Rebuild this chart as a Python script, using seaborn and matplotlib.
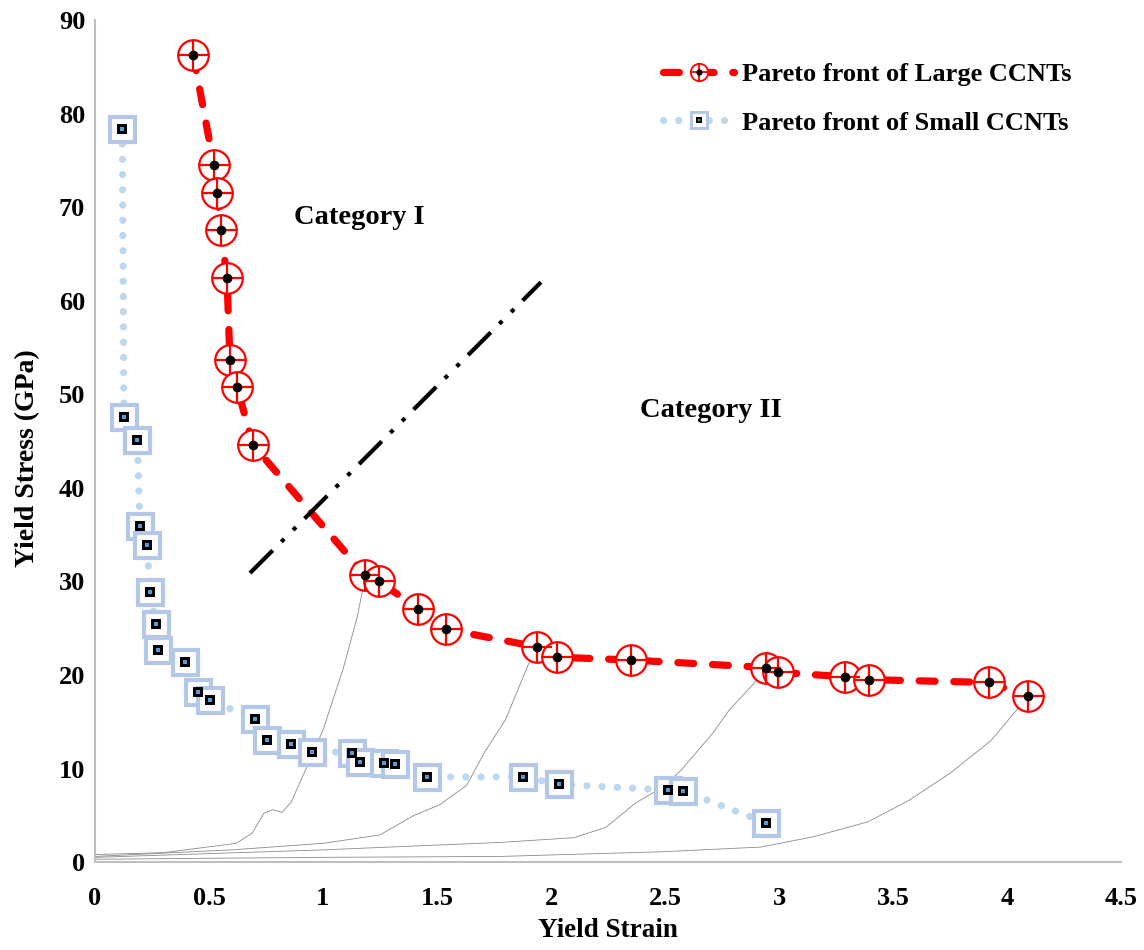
import numpy as np
import pandas as pd
import matplotlib
matplotlib.use('Agg')
import matplotlib.pyplot as plt
import seaborn as sns
from matplotlib.legend_handler import HandlerTuple

# Pareto front, large CCNTs
large_strain = [0.431, 0.522, 0.535, 0.553, 0.579, 0.592, 0.623, 0.693, 1.184, 1.246, 1.417,
                1.539, 1.939, 2.026, 2.351, 2.943, 2.996, 3.289, 3.395, 3.921, 4.092]
large_stress = [86.3, 74.5, 71.5, 67.6, 62.4, 53.7, 50.8, 44.6, 30.7, 30.0, 27.1,
                24.9, 23.0, 21.9, 21.6, 20.8, 20.3, 19.8, 19.5, 19.2, 17.7]

# Pareto front, small CCNTs
small_strain = [0.12, 0.127, 0.186, 0.197, 0.227, 0.243, 0.266, 0.278, 0.395, 0.452, 0.504,
                0.702, 0.754, 0.86, 0.952, 1.127, 1.162, 1.268, 1.316, 1.456, 1.877, 2.035,
                2.513, 2.579, 2.943]
small_stress = [78.4, 47.6, 45.1, 35.9, 33.9, 28.9, 25.5, 22.7, 21.4, 18.2, 17.3,
                15.3, 13.0, 12.6, 11.8, 11.7, 10.7, 10.6, 10.5, 9.1, 9.1, 8.3,
                7.7, 7.6, 4.2]

# stress-strain curves (thin grey)
curve_a_x = [0.0, 0.3, 0.62, 0.69, 0.74, 0.78, 0.82, 0.86, 0.93, 1.0, 1.09, 1.15, 1.18]
curve_a_y = [0.8, 1.0, 2.0, 3.1, 5.2, 5.6, 5.3, 6.4, 10.2, 14.1, 20.8, 26.2, 29.8]
curve_b_x = [0.0, 0.6, 1.0, 1.25, 1.40, 1.51, 1.63, 1.71, 1.80, 1.90, 1.94]
curve_b_y = [0.6, 1.3, 2.0, 2.9, 5.0, 6.1, 8.2, 11.8, 15.2, 21.1, 23.0]
curve_c_x = [0.0, 1.0, 1.78, 2.10, 2.24, 2.37, 2.49, 2.57, 2.71, 2.78, 2.89, 2.94]
curve_c_y = [0.5, 1.3, 2.1, 2.6, 3.7, 6.3, 8.0, 9.8, 13.8, 16.2, 19.1, 20.8]
curve_d_x = [0.0, 1.0, 1.78, 2.49, 2.92, 3.15, 3.39, 3.57, 3.75, 3.93, 4.04, 4.09]
curve_d_y = [0.3, 0.5, 0.6, 1.1, 1.6, 2.7, 4.3, 6.6, 9.5, 13.0, 16.2, 17.7]

# category divider
divider_x = [0.68, 1.956]
divider_y = [30.9, 62.0]

x_ticks = [0, 0.5, 1, 1.5, 2, 2.5, 3, 3.5, 4, 4.5]
x_ticklabels = ['0', '0.5', '1', '1.5', '2', '2.5', '3', '3.5', '4', '4.5']
y_ticks = [0, 10, 20, 30, 40, 50, 60, 70, 80, 90]

sns.set_style('white')
plt.rcParams['font.family'] = ['Liberation Serif', 'DejaVu Serif']
plt.rcParams['font.weight'] = 'bold'
plt.rcParams['text.color'] = 'black'
plt.rcParams['axes.labelcolor'] = 'black'
plt.rcParams['xtick.color'] = 'black'
plt.rcParams['ytick.color'] = 'black'

fig = plt.figure(figsize=(11.44, 9.5), dpi=100)
ax = fig.add_axes([0.083, 0.0926, 0.897, 0.886])

df_large = pd.DataFrame({'strain': large_strain, 'stress': large_stress})
df_small = pd.DataFrame({'strain': small_strain, 'stress': small_stress})

for cx, cy in [(curve_a_x, curve_a_y), (curve_b_x, curve_b_y),
               (curve_c_x, curve_c_y), (curve_d_x, curve_d_y)]:
    sns.lineplot(x=cx, y=cy, ax=ax, color='#8a8a8a', lw=0.6, sort=False,
                 estimator=None, zorder=1)

red_ls = (0, (2.2, 2.6))
blue_ls = (0, (0.01, 2.1))

# small CCNT front
sns.lineplot(data=df_small, x='strain', y='stress', ax=ax, sort=False, estimator=None,
             color='#bdd7ee', lw=5.2, linestyle=blue_ls,
             dash_capstyle='round', zorder=2)
ax.plot(small_strain, small_stress, ls='none', marker='s', ms=18, mfc='white',
        mec='#b4c7e7', mew=3, zorder=3)
ax.plot(small_strain, small_stress, ls='none', marker='s', ms=7.5, mfc='black',
        mec='black', mew=0, zorder=3)
ax.plot(small_strain, small_stress, ls='none', marker='s', ms=2.8, mfc='#5b9bd5',
        mec='#5b9bd5', mew=0, zorder=3)

# large CCNT front
sns.lineplot(data=df_large, x='strain', y='stress', ax=ax, sort=False, estimator=None,
             color='red', lw=5.2, linestyle=red_ls,
             dash_capstyle='round', zorder=4)
ax.plot(large_strain, large_stress, ls='none', marker='o', ms=22, mfc='white',
        mec='red', mew=1.6, zorder=5)
ax.plot(large_strain, large_stress, ls='none', marker='+', ms=22, mec='red',
        mew=1.6, zorder=5)
ax.plot(large_strain, large_stress, ls='none', marker='o', ms=7, mfc='black',
        mec='black', mew=0, zorder=5)

# divider
ax.plot(divider_x, divider_y, color='black', lw=3,
        linestyle=(0, (7.7, 2.9, 1.0, 3.0, 1.0, 2.9)), zorder=6)

ax.text(1.16, 68.9, 'Category I', fontsize=20.5, fontweight='bold', ha='center', va='center')
ax.text(2.70, 48.3, 'Category II', fontsize=20.5, fontweight='bold', ha='center', va='center')

ax.set_xlim(0, 4.5)
ax.set_ylim(0, 90)
ax.set_xticks(x_ticks)
ax.set_xticklabels(x_ticklabels)
ax.set_yticks(y_ticks)
ax.tick_params(axis='both', labelsize=19, length=0)
ax.tick_params(axis='x', pad=18)
ax.tick_params(axis='y', pad=7)
for lab in ax.get_xticklabels() + ax.get_yticklabels():
    lab.set_fontweight('bold')
ax.set_xlabel('Yield Strain', fontsize=19.5, fontweight='bold')
ax.set_ylabel('Yield Stress (GPa)', fontsize=20, fontweight='bold')
ax.xaxis.set_label_coords(0.5, -0.066)
ax.yaxis.set_label_coords(-0.053, 0.48)

for side in ['top', 'right']:
    ax.spines[side].set_visible(False)
for side in ['left', 'bottom']:
    ax.spines[side].set_color('#bfbfbf')
    ax.spines[side].set_linewidth(1.5)

# legend proxies (smaller markers, as in the original legend)
leg_red = (plt.Line2D([], [], color='red', lw=5.2, linestyle=red_ls, dash_capstyle='round'),
           plt.Line2D([], [], ls='none', marker='o', ms=12.5, mfc='white', mec='red', mew=1.3),
           plt.Line2D([], [], ls='none', marker='+', ms=12.5, mec='red', mew=1.3),
           plt.Line2D([], [], ls='none', marker='o', ms=4.5, mfc='black', mec='black', mew=0))
leg_blue = (plt.Line2D([], [], color='#bdd7ee', lw=5.2, linestyle=blue_ls, dash_capstyle='round'),
            plt.Line2D([], [], ls='none', marker='s', ms=11, mfc='white', mec='#b4c7e7', mew=2.2),
            plt.Line2D([], [], ls='none', marker='s', ms=5, mfc='black', mec='black', mew=0),
            plt.Line2D([], [], ls='none', marker='s', ms=2, mfc='#5b9bd5', mec='#5b9bd5', mew=0))
fig.legend([leg_red, leg_blue],
           ['Pareto front of Large CCNTs', 'Pareto front of Small CCNTs'],
           handler_map={tuple: HandlerTuple(ndivide=1)}, numpoints=1,
           loc='upper left', bbox_to_anchor=(0.5795, 0.934), bbox_transform=fig.transFigure,
           frameon=False, borderpad=0, borderaxespad=0,
           prop={'size': 19, 'weight': 'bold'}, handlelength=2.7, handletextpad=0.3,
           labelspacing=0.95)

fig.savefig('out.png', dpi=100)
